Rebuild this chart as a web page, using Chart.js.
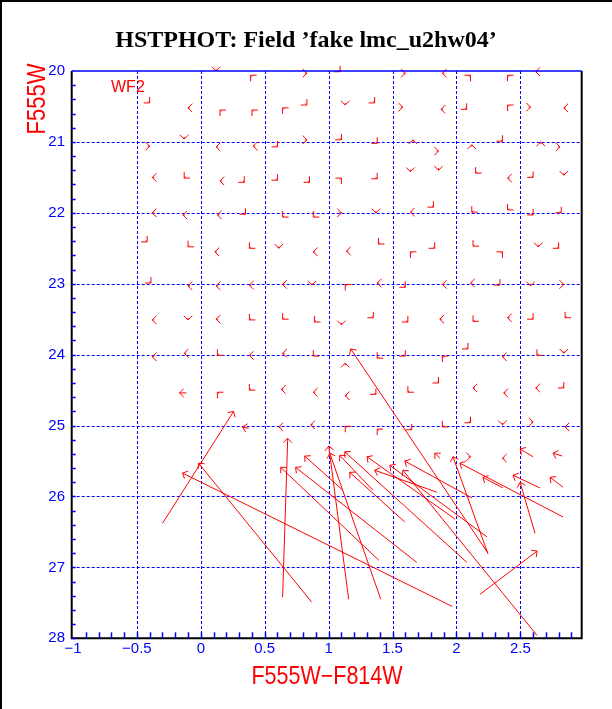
<!DOCTYPE html>
<html>
<head>
<meta charset="utf-8">
<script src="https://cdn.jsdelivr.net/npm/chart.js@4.4.1/dist/chart.umd.min.js"></script>
<style>
  html, body { margin: 0; padding: 0; background: #fff; }
  canvas { display: block; }
</style>
</head>
<body>
<canvas id="chart" width="612" height="709"></canvas>
<script>
// axis ticks
const xTickLabels = [-1, -0.5, 0, 0.5, 1, 1.5, 2, 2.5];
const yTickLabels = [20, 21, 22, 23, 24, 25, 26, 27, 28];
const xGridValues = [-0.5, 0, 0.5, 1, 1.5, 2, 2.5];
const yGridValues = [21, 22, 23, 24, 25, 26, 27];

// bright fake stars: arrow tip position and the way it points
const shortX = [
  0.12, 0.39, 0.83, 1.09, 1.60, 1.89, 2.11, 2.40, 2.62,
  -0.40, -0.10, 0.15, 0.40, 0.64, 0.83, 1.13, 1.36, 1.58, 1.88, 2.08, 2.40, 2.58, 2.84,
  -0.40, -0.13, 0.12, 0.41, 0.60, 0.83, 1.10, 1.38, 1.66, 1.86, 2.12, 2.36, 2.66, 2.81,
  -0.38, -0.13, 0.15, 0.34, 0.60, 0.85, 1.10, 1.38, 1.64, 1.86, 2.15, 2.40, 2.60, 2.84,
  -0.38, -0.14, 0.13, 0.35, 0.64, 0.88, 1.10, 1.37, 1.64, 1.82, 2.12, 2.40, 2.60, 2.82,
  -0.42, -0.10, 0.11, 0.38, 0.61, 0.88, 1.14, 1.39, 1.64, 1.83, 2.13, 2.36, 2.64, 2.80,
  -0.39, -0.10, 0.12, 0.38, 0.64, 0.87, 1.13, 1.38, 1.60, 1.89, 2.11, 2.34, 2.58, 2.84,
  -0.38, -0.10, 0.12, 0.38, 0.64, 0.89, 1.10, 1.35, 1.62, 1.87, 2.13, 2.40, 2.60, 2.85,
  -0.38, -0.13, 0.13, 0.38, 0.64, 0.88, 1.13, 1.38, 1.60, 1.89, 2.09, 2.36, 2.63, 2.84,
  0.13, 0.38, 0.63, 0.88, 1.13, 1.37, 1.62, 1.86, 2.13, 2.37, 2.62, 2.84,
  0.61, 0.86, 1.13, 1.38, 1.65, 1.89, 2.11, 2.36, 2.60, 2.85,
  2.11, 2.36
];
const shortY = [
  20.00, 20.06, 20.03, 20.01, 20.03, 20.03, 20.06, 20.06, 20.01,
  20.45, 20.52, 20.55, 20.55, 20.52, 20.48, 20.48, 20.45, 20.51, 20.54, 20.54, 20.48, 20.51, 20.52,
  21.06, 20.96, 21.07, 21.06, 21.07, 20.97, 20.97, 21.02, 20.97, 21.13, 21.04, 20.99, 21.00, 21.07,
  21.50, 21.51, 21.55, 21.57, 21.54, 21.57, 21.51, 21.52, 21.42, 21.40, 21.44, 21.51, 21.50, 21.47,
  22.00, 22.03, 22.03, 22.02, 22.06, 22.06, 22.00, 22.00, 21.99, 21.92, 21.99, 21.96, 22.03, 22.00,
  22.41, 22.48, 22.55, 22.50, 22.50, 22.55, 22.54, 22.44, 22.55, 22.50, 22.47, 22.55, 22.48, 22.50,
  22.99, 23.03, 23.03, 23.02, 23.01, 23.02, 23.01, 22.99, 23.05, 23.01, 22.99, 23.02, 23.03, 23.01,
  23.51, 23.51, 23.50, 23.51, 23.50, 23.54, 23.58, 23.48, 23.54, 23.50, 23.53, 23.48, 23.50, 23.48,
  24.03, 23.98, 24.01, 24.01, 23.98, 24.02, 24.12, 24.05, 24.02, 24.02, 23.92, 24.03, 24.01, 23.98,
  24.53, 24.50, 24.49, 24.53, 24.58, 24.56, 24.53, 24.40, 24.47, 24.54, 24.47, 24.47,
  25.02, 24.99, 25.01, 25.05, 25.06, 25.02, 24.96, 24.99, 24.95, 25.02,
  25.44, 25.46
];
const shortDir = [
  "S", "NW", "E", "SE", "E", "W", "NE", "NW", "W",
  "SE", "W", "NW", "NW", "NW", "SE", "S", "SE", "E", "W", "SE", "NW", "E", "W",
  "E", "S", "W", "W", "SE", "E", "SE", "SE", "N", "E", "N", "SE", "N", "E",
  "W", "SW", "W", "SE", "SE", "SE", "NE", "SE", "S", "S", "SW", "W", "SE", "S",
  "W", "W", "W", "SE", "SW", "SW", "E", "S", "W", "SE", "SW", "SW", "SE", "SE",
  "SE", "SW", "W", "SW", "S", "W", "W", "SW", "NW", "SE", "SW", "NE", "S", "SE",
  "SE", "W", "W", "W", "W", "S", "NW", "W", "SE", "W", "W", "SE", "S", "E",
  "W", "S", "W", "SW", "SW", "SW", "S", "SE", "SE", "W", "SW", "W", "SE", "SW",
  "W", "W", "SW", "W", "W", "SW", "N", "SW", "SE", "NW", "SE", "W", "SW", "S",
  "NW", "SW", "W", "W", "W", "SE", "SW", "SE", "W", "W", "W", "SE",
  "W", "W", "NW", "NW", "SE", "SW", "SE", "S", "E", "W",
  "E", "W"
];

// fainter fake stars: measured (tail) -> input (head)
const fromX = [-0.112, 0.374, 1.871, 2.599, 2.827,
  -0.300, 0.868, 1.966, 0.640, 1.157, 1.393, 1.408, 1.690, 1.110, 1.346,
  1.596, 1.847, 2.247, 2.835, 2.364, 2.654, 2.615, 2.835, 2.184, 2.631,
  1.990, 2.082, 2.239, 2.121, 2.247];
const fromY = [24.54, 25.04, 25.46, 25.44, 25.43,
  26.38, 27.49, 27.55, 27.42, 27.45, 26.90, 27.45, 26.93, 25.91, 25.91,
  26.36, 25.94, 26.80, 26.29, 25.88, 25.88, 26.52, 25.87, 27.38, 27.96,
  26.32, 26.93, 26.57, 26.02, 26.81];
const toX = [-0.167, 0.327, 1.831, 2.498, 2.756,
  0.257, -0.018, -0.143, 0.680, 1.001, 0.625, 1.009, 0.742, 0.813, 1.087,
  1.165, 1.361, 1.173, 2.027, 2.207, 2.443, 2.498, 2.733, 2.631, 1.581,
  1.300, 1.126, 1.479, 1.596, 1.973];
const toY = [24.54, 25.02, 25.39, 25.33, 25.39,
  24.80, 25.53, 25.67, 25.18, 25.29, 25.59, 25.39, 25.59, 25.43, 25.42,
  25.66, 25.63, 23.92, 25.53, 25.73, 25.70, 25.80, 25.73, 26.77, 25.63,
  25.44, 25.37, 25.56, 25.50, 25.44];

const RED = "#ff0000";
const BLUE = "#0000ff";
const dirVectors = {
  N: [0, -1], S: [0, 1], E: [1, 0], W: [-1, 0],
  NE: [0.707, -0.707], NW: [-0.707, -0.707], SE: [0.707, 0.707], SW: [-0.707, 0.707]
};

function drawArrow(ctx, x0, y0, x1, y1) {
  const angle = Math.atan2(y1 - y0, x1 - x0);
  const barb = 6;
  ctx.beginPath();
  ctx.moveTo(x0, y0);
  ctx.lineTo(x1, y1);
  ctx.moveTo(x1 + barb * Math.cos(angle + Math.PI * 0.75), y1 + barb * Math.sin(angle + Math.PI * 0.75));
  ctx.lineTo(x1, y1);
  ctx.lineTo(x1 + barb * Math.cos(angle - Math.PI * 0.75), y1 + barb * Math.sin(angle - Math.PI * 0.75));
  ctx.stroke();
}

const framePlugin = {
  id: "frame",
  beforeDatasetsDraw(chart) {
    const { ctx, chartArea: area, scales } = chart;
    ctx.save();
    ctx.strokeStyle = BLUE;
    ctx.lineWidth = 1;
    ctx.setLineDash([3, 2]);
    xGridValues.forEach((v) => {
      const px = Math.round(scales.x.getPixelForValue(v)) + 0.5;
      ctx.beginPath();
      ctx.moveTo(px, area.top);
      ctx.lineTo(px, area.bottom);
      ctx.stroke();
    });
    yGridValues.forEach((v) => {
      const py = Math.round(scales.y.getPixelForValue(v)) + 0.5;
      ctx.beginPath();
      ctx.moveTo(area.left, py);
      ctx.lineTo(area.right, py);
      ctx.stroke();
    });
    ctx.restore();
  },
  afterDatasetsDraw(chart) {
    const { ctx, scales } = chart;
    ctx.save();
    ctx.strokeStyle = RED;
    ctx.lineWidth = 1;
    shortX.forEach((x, i) => {
      const hx = scales.x.getPixelForValue(x);
      const hy = scales.y.getPixelForValue(shortY[i]);
      const d = dirVectors[shortDir[i]];
      drawArrow(ctx, hx - d[0] * 2, hy - d[1] * 2, hx, hy);
    });
    fromX.forEach((x, i) => {
      drawArrow(ctx,
        scales.x.getPixelForValue(x), scales.y.getPixelForValue(fromY[i]),
        scales.x.getPixelForValue(toX[i]), scales.y.getPixelForValue(toY[i]));
    });
    ctx.restore();
  },
  afterDraw(chart) {
    const { ctx, chartArea: area, scales } = chart;
    ctx.save();

    // outer frame
    ctx.fillStyle = "#000";
    ctx.fillRect(0, 0, chart.width, 2);
    ctx.fillRect(0, 0, 2, chart.height);

    // plot box
    ctx.lineWidth = 2;
    ctx.strokeStyle = "#000";
    ctx.beginPath();
    ctx.moveTo(area.left, area.top);
    ctx.lineTo(area.left, area.bottom);
    ctx.lineTo(area.right, area.bottom);
    ctx.lineTo(area.right, area.top);
    ctx.stroke();
    ctx.strokeStyle = BLUE;
    ctx.lineWidth = 1.5;
    ctx.beginPath();
    ctx.moveTo(area.left, area.top);
    ctx.lineTo(area.right, area.top);
    ctx.stroke();

    // minor ticks
    ctx.lineWidth = 1.5;
    for (let v = -0.9; v < 2.98; v += 0.1) {
      const px = Math.round(scales.x.getPixelForValue(v)) + 0.5;
      ctx.beginPath();
      ctx.moveTo(px, area.bottom);
      ctx.lineTo(px, area.bottom - 6);
      ctx.stroke();
    }
    for (let v = 20.2; v < 28; v += 0.2) {
      const py = Math.round(scales.y.getPixelForValue(v)) + 0.5;
      ctx.beginPath();
      ctx.moveTo(area.left, py);
      ctx.lineTo(area.left + 4, py);
      ctx.stroke();
    }

    // tick labels
    ctx.fillStyle = BLUE;
    ctx.font = "15px 'Liberation Sans', sans-serif";
    ctx.textAlign = "center";
    ctx.textBaseline = "middle";
    xTickLabels.forEach((v) => {
      const label = v < 0 ? "\u2212" + String(-v) : String(v);
      ctx.fillText(label, scales.x.getPixelForValue(v), 649);
    });
    ctx.textAlign = "right";
    yTickLabels.forEach((v) => {
      ctx.fillText(String(v), 65, scales.y.getPixelForValue(v));
    });

    // axis titles
    ctx.fillStyle = RED;
    ctx.font = "25px 'Liberation Sans', sans-serif";
    ctx.textAlign = "center";
    ctx.save();
    ctx.translate(327, 677);
    ctx.scale(0.86, 1);
    ctx.fillText("F555W\u2212F814W", 0, 0);
    ctx.restore();
    ctx.save();
    ctx.translate(38, 99);
    ctx.rotate(-Math.PI / 2);
    ctx.scale(0.88, 1);
    ctx.fillText("F555W", 0, 0);
    ctx.restore();

    ctx.font = "16px 'Liberation Sans', sans-serif";
    ctx.textAlign = "left";
    ctx.fillText("WF2", 111, 88);

    // title
    ctx.fillStyle = "#000";
    ctx.font = "bold 24px 'Liberation Serif', serif";
    ctx.textAlign = "center";
    ctx.fillText("HSTPHOT: Field \u2019fake lmc_u2hw04\u2019", 306, 41);
    ctx.restore();
  }
};

new Chart(document.getElementById("chart"), {
  type: "scatter",
  data: {
    datasets: [{
      data: toX.map((x, i) => ({ x, y: toY[i] })),
      pointRadius: 0
    }]
  },
  options: {
    responsive: false,
    animation: false,
    devicePixelRatio: 1,
    layout: { padding: { left: 71.7, right: 30.3, top: 71, bottom: 70.7 } },
    scales: {
      x: { type: "linear", min: -1.01, max: 2.98, display: false },
      y: { type: "linear", min: 20, max: 28, reverse: true, display: false }
    },
    plugins: { legend: { display: false }, tooltip: { enabled: false } }
  },
  plugins: [framePlugin]
});
</script>
</body>
</html>
